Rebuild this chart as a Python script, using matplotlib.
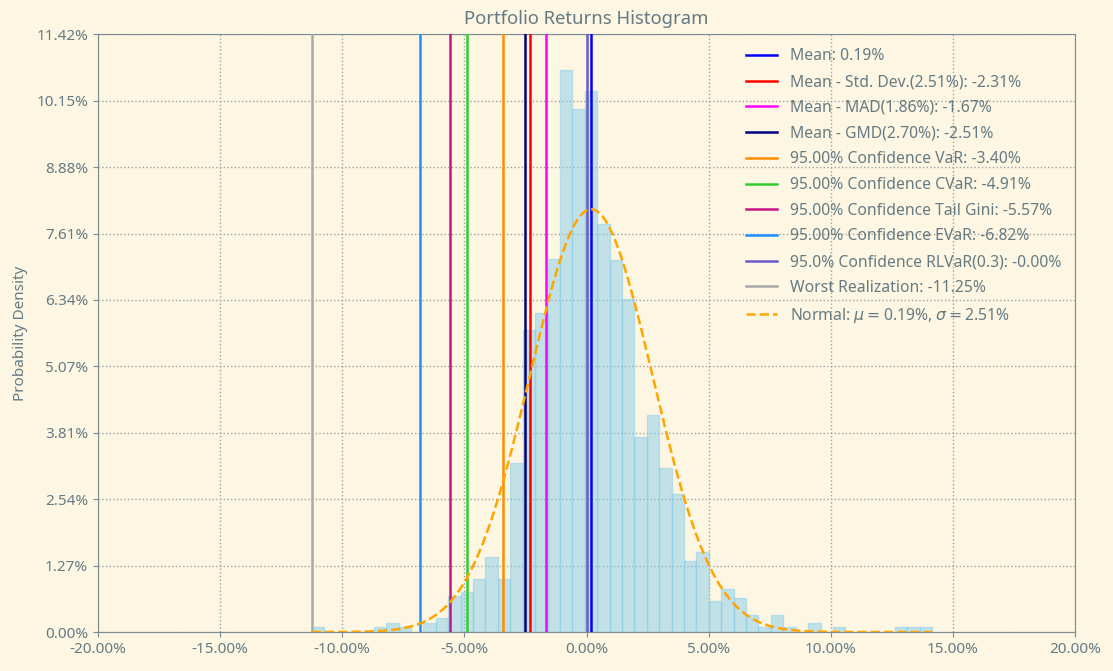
import numpy as np
import matplotlib
matplotlib.use("Agg")
import matplotlib.pyplot as plt
from matplotlib.ticker import FuncFormatter

# histogram: 50 bins between worst and best return (in %), heights = % of obs per bin
ret_min = -11.25
ret_max = 14.15
n_bins = 50
bin_heights = [0.09, 0, 0, 0, 0, 0.09, 0.18, 0.09, 0, 0.18,
               0.27, 0.69, 0.76, 1.01, 1.43, 1.01, 3.23, 5.77, 6.10, 7.12,
               10.74, 9.99, 10.33, 7.79, 7.11, 6.36, 3.73, 4.14, 3.14, 2.64,
               1.36, 1.53, 0.60, 0.83, 0.66, 0.33, 0.09, 0.33, 0.09, 0,
               0.18, 0, 0.09, 0, 0, 0, 0, 0.09, 0.09, 0.09]

mu = 0.19
sigma = 2.51

# risk measure lines (label, value %, colour)
line_labels = ["Mean: 0.19%",
               "Mean - Std. Dev.(2.51%): -2.31%",
               "Mean - MAD(1.86%): -1.67%",
               "Mean - GMD(2.70%): -2.51%",
               "95.00% Confidence VaR: -3.40%",
               "95.00% Confidence CVaR: -4.91%",
               "95.00% Confidence Tail Gini: -5.57%",
               "95.00% Confidence EVaR: -6.82%",
               "95.0% Confidence RLVaR(0.3): -0.00%",
               "Worst Realization: -11.25%"]
line_values = [0.19, -2.31, -1.67, -2.51, -3.40, -4.91, -5.57, -6.82, -0.00, -11.25]
line_colors = ["blue", "red", "fuchsia", "navy", "darkorange", "limegreen",
               "mediumvioletred", "dodgerblue", "slateblue", "darkgrey"]

bg = "#fdf6e3"
txt = "#657b83"
plt.rcParams['font.family'] = ['Noto Sans', 'DejaVu Sans']

fig = plt.figure(figsize=(11.13, 6.71), dpi=100, facecolor=bg)
ax = fig.add_axes([0.088, 0.058, 0.878, 0.891])
ax.set_facecolor(bg)

edges = np.linspace(ret_min, ret_max, n_bins + 1)
width = edges[1] - edges[0]
ax.bar(edges[:-1], bin_heights, width=width, align="edge", color="skyblue",
       edgecolor="skyblue", alpha=0.5, zorder=2)

for lab, v, c in zip(line_labels, line_values, line_colors):
    ax.axvline(v, color=c, lw=1.8, label=lab, zorder=3)

x = np.linspace(ret_min, ret_max, 400)
pdf = np.exp(-0.5 * ((x - mu) / sigma) ** 2) / (sigma * np.sqrt(2 * np.pi))
ax.plot(x, pdf * width * 100, "--", color="orange", lw=1.8, zorder=4,
        label=r"Normal: $\mu=$0.19%, $\sigma=$2.51%")

ax.set_xlim(-20, 20)
ax.set_xticks(np.arange(-20, 21, 5))
ax.xaxis.set_major_formatter(FuncFormatter(lambda v, p: "{:.2f}%".format(v)))
ymax = 11.417
ax.set_ylim(0, ymax)
ax.set_yticks(np.linspace(0, ymax, 10))
ax.yaxis.set_major_formatter(FuncFormatter(lambda v, p: "{:.2f}%".format(v)))

ax.grid(True, linestyle=":", color="#a0a0a0", lw=1, zorder=0)
ax.set_axisbelow(True)
for s in ax.spines.values():
    s.set_color("#7b8d93")
ax.tick_params(colors=txt, labelsize=11, color="#7b8d93")
ax.set_title("Portfolio Returns Histogram", color=txt, fontsize=13.3, pad=7)
ax.set_ylabel("Probability Density", color=txt, fontsize=11, labelpad=6)

leg = ax.legend(loc="upper right", fontsize=11.3, frameon=False, labelcolor=txt,
                labelspacing=0.62)

fig.savefig("out.png", dpi=100, facecolor=bg)
